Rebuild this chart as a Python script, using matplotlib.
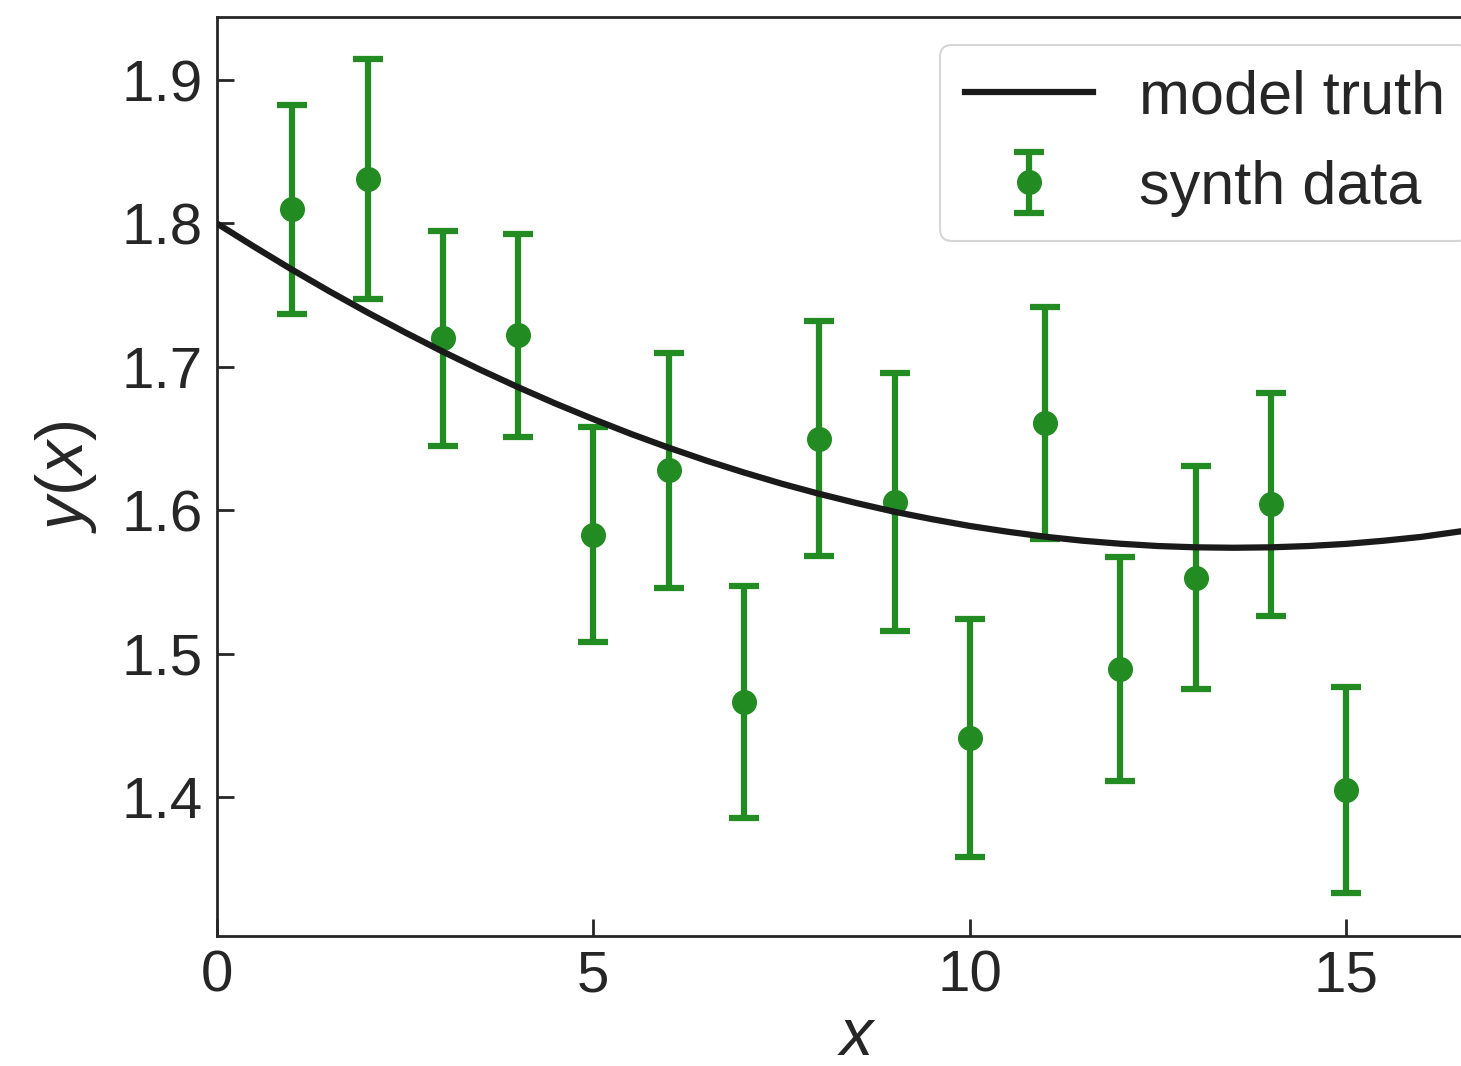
import numpy as np
import matplotlib
matplotlib.use('Agg')
import matplotlib.pyplot as plt

plt.rcParams['font.family'] = ['Liberation Sans', 'DejaVu Sans']
plt.rcParams['mathtext.fontset'] = 'custom'
plt.rcParams['mathtext.it'] = 'Liberation Sans:italic'
plt.rcParams['mathtext.rm'] = 'Liberation Sans'
plt.rcParams['text.color'] = '#262626'
plt.rcParams['axes.labelcolor'] = '#262626'
plt.rcParams['xtick.color'] = '#262626'
plt.rcParams['ytick.color'] = '#262626'

# synthetic data points
x_data = [1, 2, 3, 4, 5, 6, 7, 8, 9, 10, 11, 12, 13, 14, 15]
y_data = [1.810, 1.831, 1.720, 1.722, 1.583, 1.628, 1.466, 1.650, 1.606,
          1.441, 1.661, 1.489, 1.553, 1.604, 1.405]
y_err = [0.073, 0.084, 0.075, 0.071, 0.075, 0.082, 0.081, 0.082, 0.090,
         0.083, 0.081, 0.078, 0.078, 0.078, 0.072]

# model truth curve
x_model = [0, 0.5, 1, 1.5, 2, 2.5, 3, 3.5, 4, 4.5, 5, 5.5, 6, 6.5, 7, 7.5, 8,
           8.5, 9, 9.5, 10, 10.5, 11, 11.5, 12, 12.5, 13, 13.5, 14, 14.5,
           15, 15.5, 16, 16.5, 17]
y_model = [1.8000, 1.7836, 1.7677, 1.7525, 1.7379, 1.7240, 1.7106, 1.6979,
           1.6858, 1.6743, 1.6635, 1.6532, 1.6436, 1.6346, 1.6263, 1.6185,
           1.6114, 1.6049, 1.5989, 1.5937, 1.5890, 1.5850, 1.5815, 1.5787,
           1.5766, 1.5750, 1.5741, 1.5738, 1.5741, 1.5750, 1.5765, 1.5787,
           1.5814, 1.5851, 1.5888]

x_ticks = [0, 5, 10, 15]
y_ticks = [1.4, 1.5, 1.6, 1.7, 1.8, 1.9]

fig = plt.figure(figsize=(14.61, 10.66), dpi=100)
ax = fig.add_axes([0.1485, 0.122, 0.876, 0.862])

ax.plot(x_model, y_model, color='#1a1a1a', lw=4.5, label='model truth', zorder=3)
ax.errorbar(x_data, y_data, yerr=y_err, fmt='o', color='#228b22', ms=17,
            elinewidth=4.5, capsize=11, capthick=4.5, label='synth data', zorder=2)

ax.set_xlim(0, 17)
ax.set_ylim(1.303, 1.944)
ax.set_xticks(x_ticks)
ax.set_yticks(y_ticks)
ax.tick_params(direction='in', length=12, width=2, labelsize=42, pad=10)
for s in ax.spines.values():
    s.set_linewidth(2)
    s.set_color('#262626')

ax.set_xlabel('$x$', fontsize=48, labelpad=2)
ax.set_ylabel('$y(x)$', fontsize=48, labelpad=16)

leg = ax.legend(loc='upper right', fontsize=44, frameon=True, fancybox=True,
                borderaxespad=0.45, handlelength=2.1, handletextpad=0.75,
                labelspacing=0.55)
leg.get_frame().set_edgecolor('#cccccc')
leg.get_frame().set_linewidth(1.5)

fig.savefig('out.png', dpi=100)
